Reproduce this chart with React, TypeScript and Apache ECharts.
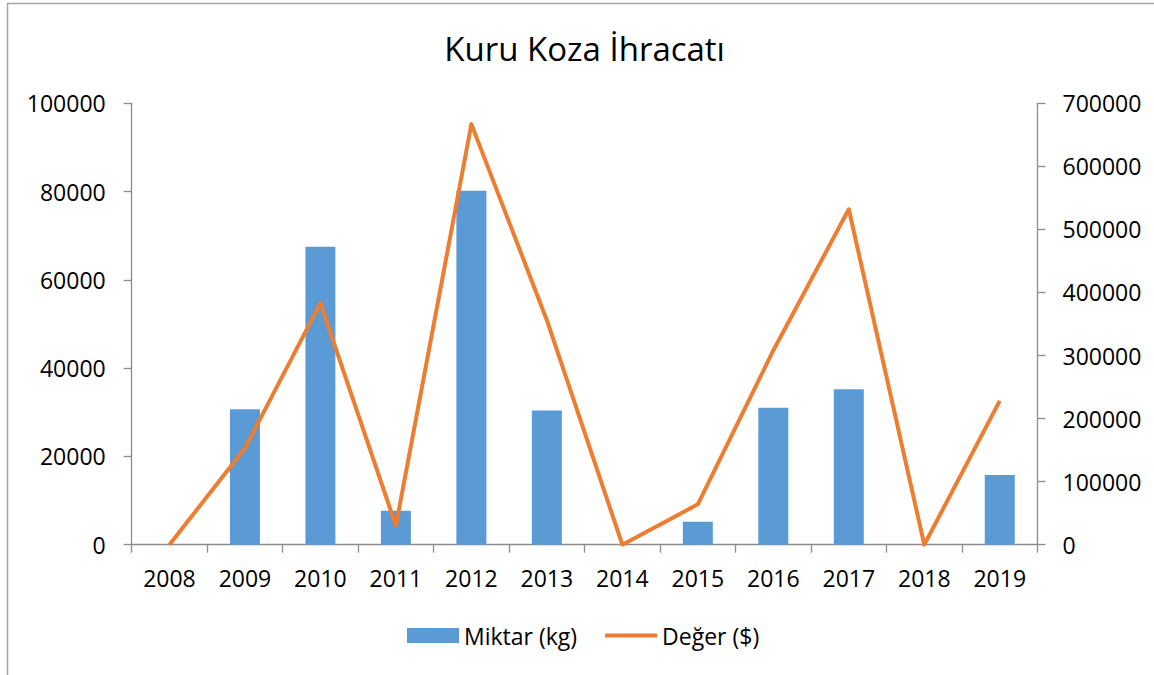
import React, { useEffect, useRef } from "react";
import * as echarts from "echarts";

const years = ["2008", "2009", "2010", "2011", "2012", "2013", "2014", "2015", "2016", "2017", "2018", "2019"];
const miktar = [0, 30700, 67500, 7700, 80200, 30400, 0, 5200, 31000, 35200, 0, 15800];
const deger = [0, 153000, 383000, 30000, 667000, 356000, 0, 64000, 308000, 532000, 0, 228000];
const titleText = "Kuru Koza İhracatı";
const seriesNames = ["Miktar (kg)", "Değer ($)"];

const FONT = "'Open Sans', sans-serif";
const AXIS_COLOR = "#8c8c8c";

export default function App() {
  const ref = useRef<HTMLDivElement>(null);
  useEffect(() => {
    if (!ref.current) return;
    const chart = echarts.init(ref.current, null, { renderer: "svg" });
    chart.setOption({
      animation: false,
      backgroundColor: "#ffffff",
      textStyle: { fontFamily: FONT },
      graphic: [
        {
          type: "rect",
          shape: { x: 7.5, y: 3.5, width: 1300, height: 800 },
          style: { fill: "none", stroke: "#a6a6a6", lineWidth: 1.5 },
          silent: true,
        },
        {
          type: "text",
          x: 584.6,
          y: 48,
          style: {
            text: titleText,
            fontFamily: FONT,
            fontSize: 33,
            fill: "#000000",
            textAlign: "center",
            textVerticalAlign: "middle",
          },
        },
      ],
      legend: {
        data: [
          { name: seriesNames[0], icon: "rect" },
          { name: seriesNames[1], icon: "path://M0,0H52V4H0Z" },
        ],
        left: 402,
        top: 619,
        itemWidth: 52,
        itemHeight: 15,
        itemGap: 28,
        textStyle: { fontFamily: FONT, fontSize: 23, color: "#000000" },
      },
      grid: { left: 131.7, right: 116.5, top: 103.3, bottom: 130.3, containLabel: false },
      xAxis: {
        type: "category",
        data: years,
        boundaryGap: true,
        axisLine: { lineStyle: { color: AXIS_COLOR, width: 1.3 } },
        axisTick: { show: true, length: 8, interval: 0, alignWithLabel: false, lineStyle: { color: AXIS_COLOR, width: 1.3 } },
        axisLabel: { interval: 0, margin: 22, fontFamily: FONT, fontSize: 23, color: "#000000" },
        splitLine: { show: false },
      },
      yAxis: [
        {
          type: "value",
          min: 0,
          max: 100000,
          interval: 20000,
          position: "left",
          axisLine: { show: true, lineStyle: { color: AXIS_COLOR, width: 1.3 } },
          axisTick: { show: true, length: 8, lineStyle: { color: AXIS_COLOR, width: 1.3 } },
          axisLabel: { margin: 26, fontFamily: FONT, fontSize: 23, color: "#000000", formatter: (v: number) => String(v) },
          splitLine: { show: false },
        },
        {
          type: "value",
          min: 0,
          max: 700000,
          interval: 100000,
          position: "right",
          axisLine: { show: true, lineStyle: { color: AXIS_COLOR, width: 1.3 } },
          axisTick: { show: true, length: 8, lineStyle: { color: AXIS_COLOR, width: 1.3 } },
          axisLabel: { margin: 25, fontFamily: FONT, fontSize: 23, color: "#000000", formatter: (v: number) => String(v) },
          splitLine: { show: false },
        },
      ],
      series: [
        {
          name: seriesNames[0],
          type: "bar",
          data: miktar,
          yAxisIndex: 0,
          barWidth: 30,
          itemStyle: { color: "#5B9BD5" },
        },
        {
          name: seriesNames[1],
          type: "line",
          data: deger,
          yAxisIndex: 1,
          symbol: "none",
          showSymbol: false,
          lineStyle: { color: "#ED7D31", width: 4, join: "round" },
          itemStyle: { color: "#ED7D31" },
        },
      ],
    });
    return () => chart.dispose();
  }, []);
  return (
    <div
      ref={ref}
      style={{ position: "absolute", left: 0, top: 0, width: 1154, height: 675 }}
    />
  );
}
